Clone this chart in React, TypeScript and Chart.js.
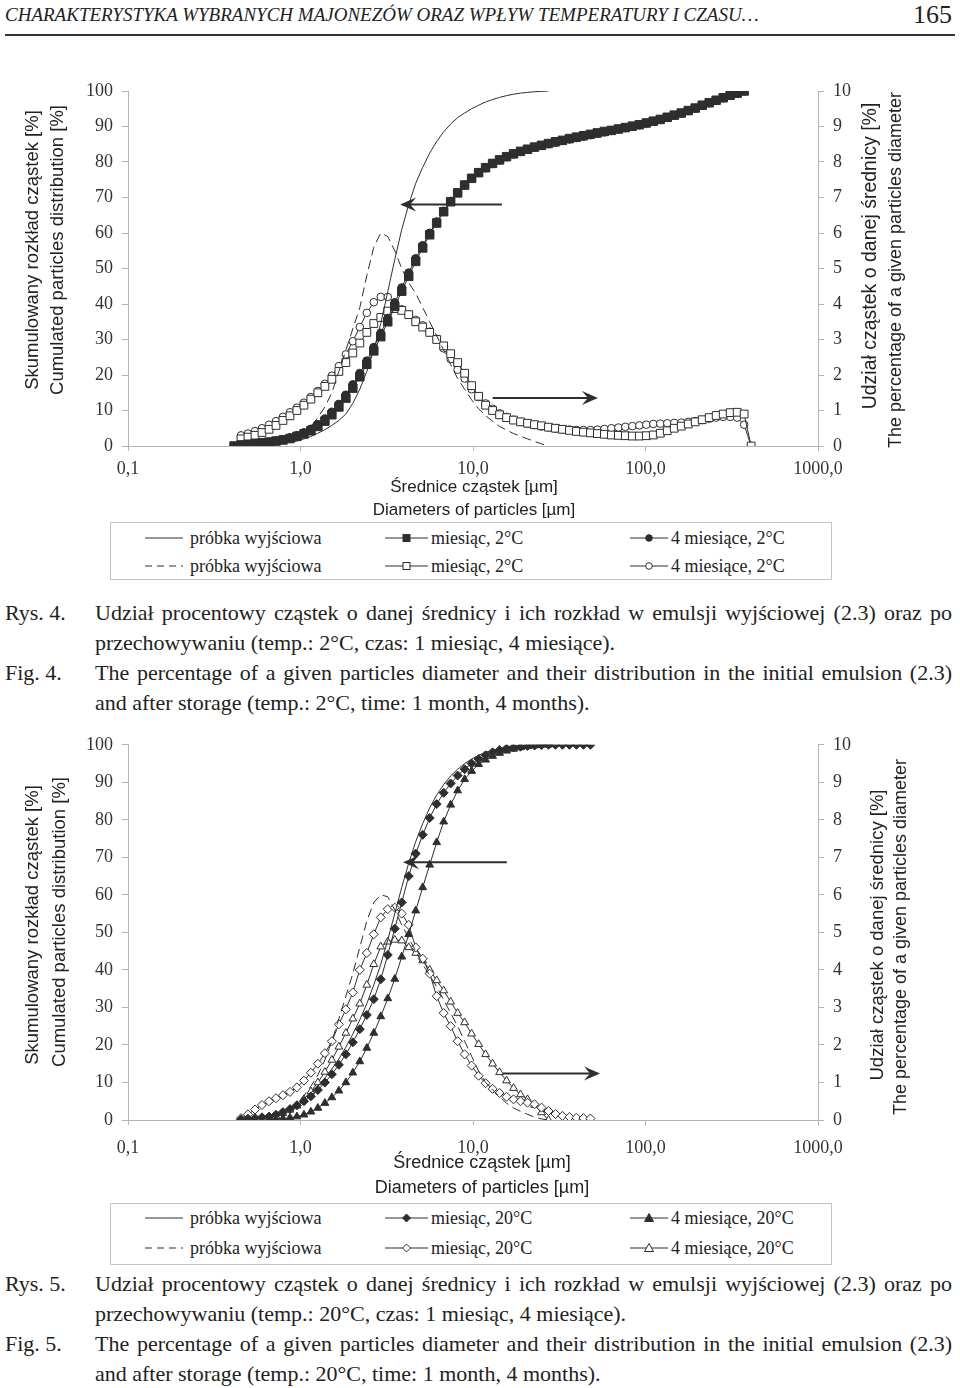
import React, { useEffect, useRef } from 'react';
import { Chart, registerables } from 'chart.js';

Chart.register(...registerables);

// ---------------- DATA ----------------
// Particle-size classes [µm] (logarithmic bins of the analyser)
const diameters = [
  0.375, 0.412, 0.452, 0.496, 0.545, 0.598, 0.657, 0.721, 0.791, 0.869,
  0.953, 1.047, 1.149, 1.261, 1.385, 1.52, 1.669, 1.832, 2.01, 2.207,
  2.423, 2.66, 2.92, 3.205, 3.519, 3.863, 4.24, 4.655, 5.11, 5.61,
  6.158, 6.76, 7.421, 8.147, 8.943, 9.817, 10.78, 11.83, 12.99, 14.26,
  15.65, 17.18, 18.86, 20.71, 22.73, 24.95, 27.39, 30.07, 33.01, 36.24,
  39.78, 43.67, 47.94, 52.62, 57.77, 63.41, 69.61, 76.42, 83.89, 92.09,
  101.1, 111.0, 121.8, 133.7, 146.8, 161.2, 176.9, 194.2, 213.2, 234.1,
  256.9, 282.1, 309.6, 339.9, 373.1, 409.6,
];

const xTickValues = [0.1, 1, 10, 100, 1000];
const xTickLabels = ['0,1', '1,0', '10,0', '100,0', '1000,0'];

// ---- Fig. 4 (2°C) ----
const fig4InitialCumStart = 5;
const fig4InitialCum = [0, 0.2, 0.4, 0.7, 1.0, 1.4, 2.0, 2.7, 3.6, 4.6, 5.8, 7.2, 9, 12, 16, 21, 27, 34.5, 43.5, 52.5, 61, 68, 74, 78.5, 82.5, 85.8, 88.5, 90.7, 92.5, 93.8, 95, 96, 96.9, 97.6, 98.2, 98.7, 99.1, 99.4, 99.6, 99.8, 99.9, 100];
const fig4InitialDistStart = 9;
const fig4InitialDist = [0.1, 0.2, 0.3, 0.55, 0.8, 1.1, 1.5, 2.1, 2.7, 3.3, 3.9, 4.8, 5.6, 6.0, 5.9, 5.5, 5.0, 4.6, 4.3, 3.9, 3.5, 3.1, 2.7, 2.3, 1.9, 1.6, 1.3, 1.05, 0.85, 0.7, 0.55, 0.45, 0.35, 0.28, 0.2, 0.13, 0.06, 0];
const fig4MonthCumStart = 1;
const fig4MonthCum = [0, 0.3, 0.5, 0.7, 0.9, 1.1, 1.4, 1.7, 2.1, 2.7, 3.4, 4.3, 5.5, 7.0, 8.8, 11.0, 13.5, 16.3, 19.5, 23.0, 26.8, 30.8, 35.0, 39.3, 43.6, 47.8, 52.0, 55.8, 59.5, 62.8, 66.0, 68.8, 71.3, 73.5, 75.4, 77.0, 78.4, 79.6, 80.6, 81.5, 82.3, 83.0, 83.6, 84.2, 84.7, 85.2, 85.7, 86.1, 86.6, 87.0, 87.4, 87.8, 88.2, 88.6, 88.9, 89.3, 89.7, 90.1, 90.5, 91.0, 91.5, 92.0, 92.6, 93.2, 93.8, 94.5, 95.2, 96.0, 96.7, 97.4, 98.1, 98.8, 99.4, 100];
const fig4FourMonthCumStart = 1;
const fig4FourMonthCum = [0, 0.3, 0.5, 0.8, 1.0, 1.2, 1.5, 1.9, 2.4, 3.0, 3.8, 4.8, 6.1, 7.7, 9.6, 11.8, 14.4, 17.3, 20.5, 24.0, 27.8, 31.8, 36.0, 40.3, 44.6, 48.8, 52.8, 56.5, 60.0, 63.2, 66.2, 69.0, 71.4, 73.6, 75.4, 77.0, 78.3, 79.5, 80.5, 81.4, 82.2, 82.9, 83.5, 84.1, 84.6, 85.1, 85.5, 86.0, 86.4, 86.8, 87.2, 87.6, 88.0, 88.4, 88.8, 89.2, 89.6, 90.0, 90.4, 90.9, 91.4, 91.9, 92.5, 93.1, 93.7, 94.4, 95.1, 95.9, 96.6, 97.3, 98.0, 98.7, 99.3, 100];
const fig4MonthDistStart = 2;
const fig4MonthDist = [0.2, 0.25, 0.3, 0.38, 0.47, 0.58, 0.72, 0.85, 1.0, 1.15, 1.32, 1.5, 1.68, 1.88, 2.1, 2.35, 2.62, 2.9, 3.2, 3.45, 3.62, 3.8, 3.87, 3.82, 3.7, 3.5, 3.35, 3.2, 3.0, 2.82, 2.6, 2.35, 2.05, 1.7, 1.4, 1.15, 1.0, 0.88, 0.8, 0.73, 0.68, 0.64, 0.6, 0.57, 0.53, 0.5, 0.47, 0.44, 0.41, 0.39, 0.37, 0.35, 0.33, 0.31, 0.3, 0.29, 0.28, 0.28, 0.29, 0.31, 0.36, 0.43, 0.5, 0.56, 0.62, 0.68, 0.74, 0.8, 0.86, 0.9, 0.94, 0.95, 0.9, 0];
const fig4FourMonthDistStart = 2;
const fig4FourMonthDist = [0.3, 0.35, 0.42, 0.5, 0.6, 0.7, 0.82, 0.95, 1.08, 1.22, 1.38, 1.55, 1.75, 1.98, 2.25, 2.58, 2.95, 3.35, 3.75, 4.05, 4.2, 4.2, 4.05, 3.85, 3.7, 3.55, 3.4, 3.22, 3.02, 2.75, 2.45, 2.15, 1.9, 1.6, 1.38, 1.2, 1.05, 0.92, 0.82, 0.74, 0.68, 0.63, 0.59, 0.55, 0.52, 0.49, 0.47, 0.46, 0.45, 0.45, 0.45, 0.46, 0.48, 0.5, 0.52, 0.54, 0.56, 0.58, 0.6, 0.62, 0.63, 0.64, 0.65, 0.66, 0.68, 0.7, 0.73, 0.77, 0.8, 0.82, 0.82, 0.8, 0.6, 0];

// ---- Fig. 5 (20°C) ----
const fig5InitialCumStart = 4;
const fig5InitialCum = [0.3, 0.6, 1.0, 1.6, 2.4, 3.3, 4.4, 5.7, 7.2, 9.0, 11.2, 13.6, 16.3, 19.4, 22.9, 26.7, 31.0, 36.0, 41.5, 48.0, 55.0, 62.0, 68.5, 74.2, 79.0, 83.2, 86.6, 89.4, 91.7, 93.5, 95.0, 96.2, 97.2, 98.0, 98.6, 99.0, 99.4, 99.6, 99.8, 99.9, 100];
const fig5InitialDistStart = 9;
const fig5InitialDist = [0.3, 0.45, 0.65, 0.9, 1.2, 1.6, 2.1, 2.7, 3.3, 3.9, 4.6, 5.3, 5.8, 6.0, 5.95, 5.6, 5.2, 4.85, 4.5, 4.15, 3.85, 3.55, 3.2, 2.85, 2.5, 2.1, 1.7, 1.3, 1.0, 0.8, 0.62, 0.45, 0.32, 0.23, 0.15, 0.08, 0.03, 0];
const fig5MonthCumStart = 2;
const fig5MonthCum = [0.1, 0.3, 0.5, 0.7, 0.9, 1.4, 2.1, 2.9, 3.9, 5.0, 6.3, 8.0, 10.0, 12.2, 14.7, 17.5, 20.7, 24.2, 28.0, 32.2, 37.5, 44.0, 51.0, 58.0, 65.0, 71.0, 76.0, 80.5, 84.2, 87.2, 89.7, 91.8, 93.5, 95.0, 96.2, 97.2, 98.0, 98.6, 99.0, 99.3, 99.5, 99.7, 99.8, 99.9, 100, 100, 100, 100, 100, 100, 100];
const fig5FourMonthCumStart = 6;
const fig5FourMonthCum = [0.1, 0.2, 0.4, 0.6, 0.9, 1.4, 2.2, 3.2, 4.5, 6.0, 7.8, 10.0, 12.6, 15.6, 19.2, 23.2, 27.6, 32.4, 37.6, 43.5, 49.5, 55.8, 62.0, 68.0, 74.0, 79.5, 84.0, 87.8, 90.8, 93.0, 94.8, 96.0, 97.0, 97.8, 98.4, 98.9, 99.3, 99.6, 99.8, 100, 100];
const fig5MonthDistStart = 2;
const fig5MonthDist = [0.05, 0.15, 0.28, 0.4, 0.5, 0.58, 0.66, 0.75, 0.87, 1.05, 1.26, 1.5, 1.78, 2.1, 2.55, 2.95, 3.4, 4.0, 4.45, 4.95, 5.4, 5.62, 5.66, 5.5, 5.2, 4.6, 4.3, 3.9, 3.3, 2.85, 2.5, 2.1, 1.75, 1.45, 1.18, 0.98, 0.83, 0.72, 0.62, 0.55, 0.5, 0.46, 0.42, 0.33, 0.24, 0.16, 0.11, 0.08, 0.06, 0.05, 0.04];
const fig5FourMonthDistStart = 6;
const fig5FourMonthDist = [0.04, 0.1, 0.18, 0.27, 0.38, 0.55, 0.76, 1.0, 1.28, 1.6, 1.95, 2.32, 2.7, 3.1, 3.6, 4.15, 4.62, 4.75, 4.8, 4.78, 4.6, 4.45, 4.25, 4.0, 3.72, 3.45, 3.15, 2.85, 2.6, 2.3, 2.02, 1.75, 1.5, 1.27, 1.05, 0.85, 0.68, 0.55, 0.4, 0.2, 0];

// Arrows (data coords: diameter µm, cumulative %)
const fig4Arrows = [
  { from: 14.7, to: 3.78, y: 68 },
  { from: 13.0, to: 53, y: 13.5 },
];
const fig5Arrows = [
  { from: 15.7, to: 3.93, y: 68.7 },
  { from: 14.9, to: 54.5, y: 12.4 },
];

// Texts
const yLeftTitle = ['Skumulowany rozkład cząstek [%]', 'Cumulated particles distribution [%]'];
const yRightTitle = ['Udział cząstek o danej średnicy [%]', 'The percentage of a given particles diameter'];
const xTitle = ['Średnice cząstek [µm]', 'Diameters of particles [µm]'];
const fig4Legend = ['próbka wyjściowa', 'miesiąc, 2°C', '4 miesiące, 2°C'];
const fig5Legend = ['próbka wyjściowa', 'miesiąc, 20°C', '4 miesiące, 20°C'];

// ---------------- STYLE ----------------
const INK = '#2e2e2e';
const AXIS = '#b4b4b4';
const SERIF = '"Liberation Serif", "Times New Roman", serif';
const SANS = '"Liberation Sans", Arial, sans-serif';

type Marker = false | 'rect' | 'circle' | 'rectRot' | 'triangle';

function series(
  label: string, start: number, values: number[], axis: 'y' | 'y1',
  marker: Marker, filled: boolean, radius: number, dashed = false,
) {
  return {
    label,
    yAxisID: axis,
    data: values.map((v, i) => ({ x: diameters[start + i], y: v })),
    showLine: true,
    borderColor: INK,
    borderWidth: 1,
    borderDash: dashed ? [9, 5] : [],
    pointStyle: marker || 'circle',
    pointRadius: marker ? radius : 0,
    pointHoverRadius: marker ? radius : 0,
    pointBackgroundColor: filled ? INK : '#ffffff',
    pointBorderColor: INK,
    pointBorderWidth: 1,
    fill: false,
    tension: 0,
  };
}

type TextSpec = { t: string; x: number; y: number; rot?: boolean; font: string };
type ArrowSpec = { from: number; to: number; y: number };

function makeOverlay(arrows: ArrowSpec[], texts: TextSpec[]) {
  return {
    id: 'overlay',
    afterDatasetsDraw(chart: any) {
      const ctx = chart.ctx as CanvasRenderingContext2D;
      const xs = chart.scales.x;
      const ys = chart.scales.y;
      ctx.save();
      ctx.strokeStyle = INK;
      ctx.fillStyle = INK;
      ctx.lineWidth = 2;
      for (const a of arrows) {
        const x1 = xs.getPixelForValue(a.from);
        const x2 = xs.getPixelForValue(a.to);
        const y = ys.getPixelForValue(a.y);
        const dir = x2 > x1 ? 1 : -1;
        ctx.beginPath();
        ctx.moveTo(x1, y);
        ctx.lineTo(x2 - dir * 8, y);
        ctx.stroke();
        ctx.beginPath();
        ctx.moveTo(x2, y);
        ctx.lineTo(x2 - dir * 16, y - 7);
        ctx.lineTo(x2 - dir * 10, y);
        ctx.lineTo(x2 - dir * 16, y + 7);
        ctx.closePath();
        ctx.fill();
      }
      ctx.restore();
    },
    afterDraw(chart: any) {
      const ctx = chart.ctx as CanvasRenderingContext2D;
      ctx.save();
      ctx.fillStyle = '#222';
      ctx.textAlign = 'center';
      ctx.textBaseline = 'middle';
      for (const s of texts) {
        ctx.font = s.font;
        ctx.save();
        ctx.translate(s.x, s.y);
        if (s.rot) ctx.rotate(-Math.PI / 2);
        ctx.fillText(s.t, 0, 0);
        ctx.restore();
      }
      ctx.restore();
    },
  };
}

function buildConfig(p: {
  datasets: any[]; padTop: number; xAxisHeight: number; xLabelPad: number;
  arrows: ArrowSpec[]; texts: TextSpec[];
}) {
  const tickFont = { family: SERIF, size: 18 };
  return {
    type: 'scatter',
    data: { datasets: p.datasets },
    plugins: [makeOverlay(p.arrows, p.texts)],
    options: {
      responsive: false,
      animation: false,
      events: [],
      layout: { padding: { top: p.padTop, left: 0, right: 0, bottom: 0 } },
      plugins: { legend: { display: false }, tooltip: { enabled: false } },
      scales: {
        x: {
          type: 'logarithmic',
          position: 'bottom',
          min: 0.1,
          max: 1000,
          afterBuildTicks: (s: any) => { s.ticks = xTickValues.map((value) => ({ value })); },
          afterFit: (s: any) => { s.height = p.xAxisHeight; },
          ticks: {
            autoSkip: false, maxRotation: 0, minRotation: 0,
            padding: p.xLabelPad, color: '#333', font: tickFont,
            callback: (_v: any, i: number) => xTickLabels[i],
          },
          grid: { drawOnChartArea: false, drawTicks: true, tickLength: 5, color: AXIS },
          border: { display: true, color: AXIS, width: 1 },
        },
        y: {
          position: 'left', min: 0, max: 100,
          afterFit: (s: any) => { s.width = 128; },
          ticks: { stepSize: 10, padding: 9, color: '#333', font: tickFont },
          grid: { drawOnChartArea: false, drawTicks: true, tickLength: 6, color: AXIS },
          border: { display: true, color: AXIS, width: 1 },
        },
        y1: {
          position: 'right', min: 0, max: 10,
          afterFit: (s: any) => { s.width = 142; },
          ticks: { stepSize: 1, padding: 9, color: '#333', font: tickFont },
          grid: { drawOnChartArea: false, drawTicks: true, tickLength: 6, color: AXIS },
          border: { display: true, color: AXIS, width: 1 },
        },
      },
    },
  };
}

function fig4Config() {
  const T = 40; // canvas top on page
  return buildConfig({
    padTop: 91 - T,
    xAxisHeight: 522 - 446,
    xLabelPad: 7,
    arrows: fig4Arrows,
    datasets: [
      series(fig4Legend[0], fig4InitialCumStart, fig4InitialCum, 'y', false, false, 0),
      series(fig4Legend[0], fig4InitialDistStart, fig4InitialDist, 'y1', false, false, 0, true),
      series(fig4Legend[1], fig4MonthCumStart, fig4MonthCum, 'y', 'rect', true, 6),
      series(fig4Legend[2], fig4FourMonthCumStart, fig4FourMonthCum, 'y', 'circle', true, 4),
      series(fig4Legend[1], fig4MonthDistStart, fig4MonthDist, 'y1', 'rect', false, 5.5),
      series(fig4Legend[2], fig4FourMonthDistStart, fig4FourMonthDist, 'y1', 'circle', false, 3.8),
    ],
    texts: [
      { t: yLeftTitle[0], x: 33, y: 250 - T, rot: true, font: `18.5px ${SANS}` },
      { t: yLeftTitle[1], x: 58, y: 250 - T, rot: true, font: `18.5px ${SANS}` },
      { t: yRightTitle[0], x: 871, y: 256 - T, rot: true, font: `19.5px ${SANS}` },
      { t: yRightTitle[1], x: 896, y: 270 - T, rot: true, font: `18px ${SANS}` },
      { t: xTitle[0], x: 474, y: 487 - T, font: `17px ${SANS}` },
      { t: xTitle[1], x: 474, y: 510 - T, font: `17px ${SANS}` },
    ],
  });
}

function fig5Config() {
  const T = 725;
  return buildConfig({
    padTop: 740 - T,
    xAxisHeight: 1203 - 1120,
    xLabelPad: 12,
    arrows: fig5Arrows,
    datasets: [
      series(fig5Legend[0], fig5InitialCumStart, fig5InitialCum, 'y', false, false, 0),
      series(fig5Legend[0], fig5InitialDistStart, fig5InitialDist, 'y1', false, false, 0, true),
      series(fig5Legend[1], fig5MonthCumStart, fig5MonthCum, 'y', 'rectRot', true, 4.5),
      series(fig5Legend[2], fig5FourMonthCumStart, fig5FourMonthCum, 'y', 'triangle', true, 4.5),
      series(fig5Legend[1], fig5MonthDistStart, fig5MonthDist, 'y1', 'rectRot', false, 4.5),
      series(fig5Legend[2], fig5FourMonthDistStart, fig5FourMonthDist, 'y1', 'triangle', false, 4.5),
    ],
    texts: [
      { t: yLeftTitle[0], x: 33, y: 925 - T, rot: true, font: `18.5px ${SANS}` },
      { t: yLeftTitle[1], x: 60, y: 922 - T, rot: true, font: `18.5px ${SANS}` },
      { t: yRightTitle[0], x: 878, y: 935 - T, rot: true, font: `18.5px ${SANS}` },
      { t: yRightTitle[1], x: 901, y: 937 - T, rot: true, font: `18px ${SANS}` },
      { t: xTitle[0], x: 482, y: 1163 - T, font: `18px ${SANS}` },
      { t: xTitle[1], x: 482, y: 1188 - T, font: `18px ${SANS}` },
    ],
  });
}

function ChartPanel({ top, height, build }: { top: number; height: number; build: () => any }) {
  const ref = useRef<HTMLCanvasElement>(null);
  useEffect(() => {
    const chart = new Chart(ref.current as HTMLCanvasElement, build());
    return () => chart.destroy();
  }, []);
  return (
    <canvas
      ref={ref}
      width={960}
      height={height}
      style={{ position: 'absolute', left: 0, top, width: 960, height, display: 'block' }}
    />
  );
}

function Sample({ x, y, w, dashed, marker, filled }: {
  x: number; y: number; w: number; dashed?: boolean; marker?: Marker; filled?: boolean;
}) {
  const cx = w / 2;
  const fill = filled ? INK : '#fff';
  let m: any = null;
  if (marker === 'rect') m = <rect x={cx - 3.5} y={2.5} width={7} height={7} fill={fill} stroke={INK} strokeWidth={1} />;
  if (marker === 'circle') m = <circle cx={cx} cy={6} r={3.3} fill={fill} stroke={INK} strokeWidth={1} />;
  if (marker === 'rectRot') m = <polygon points={`${cx},2 ${cx + 4},6 ${cx},10 ${cx - 4},6`} fill={fill} stroke={INK} strokeWidth={1} />;
  if (marker === 'triangle') m = <polygon points={`${cx},1.5 ${cx + 4.5},9.5 ${cx - 4.5},9.5`} fill={fill} stroke={INK} strokeWidth={1} />;
  return (
    <svg width={w} height={12} style={{ position: 'absolute', left: x, top: y - 6 }}>
      <line x1={0} y1={6} x2={w} y2={6} stroke={INK} strokeWidth={1.2} strokeDasharray={dashed ? '7 5' : undefined} />
      {m}
    </svg>
  );
}

function Legend({ top, height, labels, markers, rows }: {
  top: number; height: number; labels: string[]; markers: Marker[]; rows: number[];
}) {
  const cols = [
    { sx: 145, sw: 38, tx: 190 },
    { sx: 385, sw: 43, tx: 431 },
    { sx: 630, sw: 38, tx: 671 },
  ];
  const textStyle = (x: number, y: number): React.CSSProperties => ({
    position: 'absolute', left: x, top: y - 11, fontFamily: SERIF, fontSize: 18,
    lineHeight: '22px', whiteSpace: 'nowrap', color: '#222',
  });
  return (
    <>
      <div style={{ position: 'absolute', left: 110, top, width: 722, height, border: '1px solid #c4c4c4', boxSizing: 'border-box' }} />
      {rows.map((ry, r) => (
        <React.Fragment key={r}>
          {cols.map((c, i) => (
            <React.Fragment key={i}>
              <Sample x={c.sx} y={ry} w={c.sw} dashed={i === 0 && r === 1} marker={markers[i]} filled={r === 0} />
              <div style={textStyle(c.tx, ry)}>{labels[i]}</div>
            </React.Fragment>
          ))}
        </React.Fragment>
      ))}
    </>
  );
}

function Caption({ top, tag, line1, line2 }: { top: number; tag: string; line1: string; line2: string }) {
  const base: React.CSSProperties = {
    position: 'absolute', fontFamily: SERIF, fontSize: 22, lineHeight: '30px', color: '#222', whiteSpace: 'nowrap',
  };
  return (
    <>
      <div style={{ ...base, left: 5, top: top - 15 }}>{tag}</div>
      <div style={{ ...base, left: 95, top: top - 15, width: 857, textAlign: 'justify', textAlignLast: 'justify' as any, whiteSpace: 'normal', height: 30, overflow: 'visible' }}>{line1}</div>
      <div style={{ ...base, left: 95, top: top + 15 }}>{line2}</div>
    </>
  );
}

export default function App() {
  return (
    <div style={{ position: 'absolute', left: 0, top: 0, width: 960, height: 1388, background: '#fff', overflow: 'hidden', color: '#222' }}>
      <div style={{ position: 'absolute', left: 5, top: 3, fontFamily: SERIF, fontStyle: 'italic', fontSize: 19, lineHeight: '24px', whiteSpace: 'nowrap' }}>
        CHARAKTERYSTYKA WYBRANYCH MAJONEZÓW ORAZ WPŁYW TEMPERATURY I CZASU…
      </div>
      <div style={{ position: 'absolute', right: 8, top: 0, fontFamily: SERIF, fontSize: 26, lineHeight: '30px' }}>165</div>
      <div style={{ position: 'absolute', left: 5, top: 34, width: 950, height: 2, background: '#333' }} />

      <ChartPanel top={40} height={482} build={fig4Config} />
      <Legend top={522} height={58} labels={fig4Legend} markers={[false, 'rect', 'circle']} rows={[538, 566]} />
      <Caption top={613} tag="Rys. 4." line1="Udział procentowy cząstek o danej średnicy i ich rozkład w emulsji wyjściowej (2.3) oraz po" line2="przechowywaniu (temp.: 2°C, czas: 1 miesiąc, 4 miesiące)." />
      <Caption top={673} tag="Fig. 4." line1="The percentage of a given particles diameter and their distribution in the initial emulsion (2.3)" line2="and after storage (temp.: 2°C, time: 1 month, 4 months)." />

      <ChartPanel top={725} height={478} build={fig5Config} />
      <Legend top={1203} height={62} labels={fig5Legend} markers={[false, 'rectRot', 'triangle']} rows={[1218, 1248]} />
      <Caption top={1284} tag="Rys. 5." line1="Udział procentowy cząstek o danej średnicy i ich rozkład w emulsji wyjściowej (2.3) oraz po" line2="przechowywaniu (temp.: 20°C, czas: 1 miesiąc, 4 miesiące)." />
      <Caption top={1344} tag="Fig. 5." line1="The percentage of a given particles diameter and their distribution in the initial emulsion (2.3)" line2="and after storage (temp.: 20°C, time: 1 month, 4 months)." />
    </div>
  );
}
